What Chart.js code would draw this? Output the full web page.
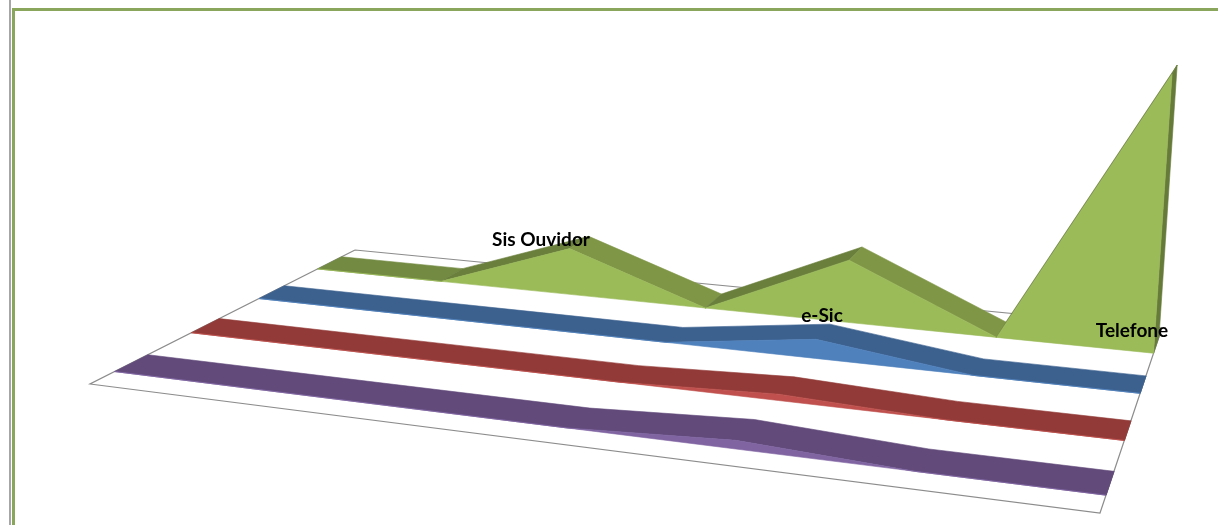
<!DOCTYPE html>
<html><head><meta charset="utf-8">
<style>
html,body{margin:0;padding:0;background:#fff;width:1218px;height:525px;overflow:hidden}
#greyline{position:absolute;left:9px;top:0;width:2px;height:525px;background:#a6a6a6}
#frame{position:absolute;left:12px;top:8px;right:0;bottom:0;border-left:3px solid #8aa65c;border-top:3px solid #8aa65c}
#wrap{position:absolute;left:0;top:0;width:1218px;height:525px}
</style>
<script src="https://cdn.jsdelivr.net/npm/chart.js@4/dist/chart.umd.min.js"></script>
</head><body>
<div id="greyline"></div><div id="frame"></div>
<div id="wrap"><canvas id="c" width="1218" height="525"></canvas></div>
<script>
// ---- data ----
const categories = ['c1','c2','c3','c4','c5','c6','c7'];
const telefone  = [0,0,18.5,0,24,0,100];
const eSic      = [0,0,0,0,7,0,0];
const sisExtra  = [0,0,0,0,2.2,0,0];
const outros    = [0,0,0,0,2.8,0,0];
const labelTexts = ['Sis Ouvidor','e-Sic','Telefone'];

// ---- layout of the 3D box (not data) ----
const W = 1218, H = 525;
const FLOOR = [[355,250],[1162,328],[1100,513],[90,384]];
const VERT = [640,8100];
const K = 0.00029;
const labelAnchors = [[541,240],[822,316],[1132,331]];
const bands = [
  {values:telefone, d0:.063,d1:.172, top:'#728a41', up:'#6a7f3c', down:'#7f9647', front:'#9bbb59', cap:'#667b39'},
  {values:eSic,     d0:.315,d1:.418, top:'#3c618f', up:'#3c618f', down:'#3c618f', front:'#4f81bd', cap:'#3c618f'},
  {values:sisExtra, d0:.570,d1:.671, top:'#923a38', up:'#923a38', down:'#923a38', front:'#c0504d', cap:'#923a38'},
  {values:outros,   d0:.819,d1:.925, top:'#624a7b', up:'#624a7b', down:'#624a7b', front:'#8064a2', cap:'#624a7b'}
];

// homography unit square -> floor quad
const [p0,p1,p2,p3]=FLOOR;
const dx1=p1[0]-p2[0],dx2=p3[0]-p2[0],dx3=p0[0]-p1[0]+p2[0]-p3[0];
const dy1=p1[1]-p2[1],dy2=p3[1]-p2[1],dy3=p0[1]-p1[1]+p2[1]-p3[1];
const den=dx1*dy2-dx2*dy1;
const G=(dx3*dy2-dx2*dy3)/den,Hh=(dx1*dy3-dx3*dy1)/den;
const A=p1[0]-p0[0]+G*p1[0],B=p3[0]-p0[0]+Hh*p3[0],C=p0[0];
const D=p1[1]-p0[1]+G*p1[1],E=p3[1]-p0[1]+Hh*p3[1],F=p0[1];
function project(u,d,v){
  const s=-K*v;
  const X=A*u+B*d+C+s*VERT[0],Y=D*u+E*d+F+s*VERT[1],Z=G*u+Hh*d+1+s;
  return {x:X/Z,y:Y/Z};
}
function poly(points,fill,border,bw){
  return {data:points,showLine:true,fill:'shape',backgroundColor:fill,
    borderColor:border||fill,borderWidth:bw===undefined?0.6:bw,pointRadius:0,tension:0,clip:false};
}
const datasets=[];
datasets.push(poly([[0,0],[1,0],[1,1],[0,1],[0,0]].map(q=>project(q[0],q[1],0)),'#ffffff','#8c8c8c',1.2));
bands.forEach(b=>{
  const n=b.values.length-1,U=i=>i/n;
  if(b.up===b.down&&b.up===b.top){
    // single-colour ribbon: one polygon, no seams
    const r=b.values.map((v,i)=>project(U(i),b.d0,v));
    for(let i=n;i>=0;i--)r.push(project(U(i),b.d1,b.values[i]));
    r.push(r[0]);
    datasets.push(poly(r,b.top));
  }else{
    b.values.forEach((v,i)=>{
      if(i===n)return;
      const w=b.values[i+1];
      const col=w>v?b.up:(w<v?b.down:b.top);
      datasets.push(poly([project(U(i),b.d1,v),project(U(i),b.d0,v),project(U(i+1),b.d0,w),project(U(i+1),b.d1,w),project(U(i),b.d1,v)],col));
    });
  }
  // right end wall
  datasets.push(poly([project(1,b.d1,0),project(1,b.d0,0),project(1,b.d0,b.values[n]),project(1,b.d1,b.values[n]),project(1,b.d1,0)],b.cap));
  // front face
  const pts=b.values.map((v,i)=>project(U(i),b.d1,v));
  for(let i=n;i>=0;i--)pts.push(project(U(i),b.d1,0));
  pts.push(pts[0]);
  datasets.push(poly(pts,b.front));
});
datasets.reverse(); // Chart.js paints the first dataset last

const labelPlugin={id:'labels3d',afterDatasetsDraw(ch){
  const c=ch.ctx,xs=ch.scales.x,ys=ch.scales.y;
  c.save();c.font='bold 19px Lato';c.fillStyle='#000';c.textAlign='center';c.textBaseline='middle';
  labelTexts.forEach((t,i)=>c.fillText(t,xs.getPixelForValue(labelAnchors[i][0]),ys.getPixelForValue(labelAnchors[i][1])));
  c.restore();
}};
new Chart(document.getElementById('c'),{
  type:'scatter',
  data:{datasets},
  plugins:[labelPlugin],
  options:{
    responsive:false,animation:false,
    layout:{padding:0},
    plugins:{legend:{display:false},tooltip:{enabled:false}},
    scales:{
      x:{type:'linear',display:false,min:0,max:W},
      y:{type:'linear',display:false,min:0,max:H,reverse:true}
    }
  }
});
</script>
</body></html>
